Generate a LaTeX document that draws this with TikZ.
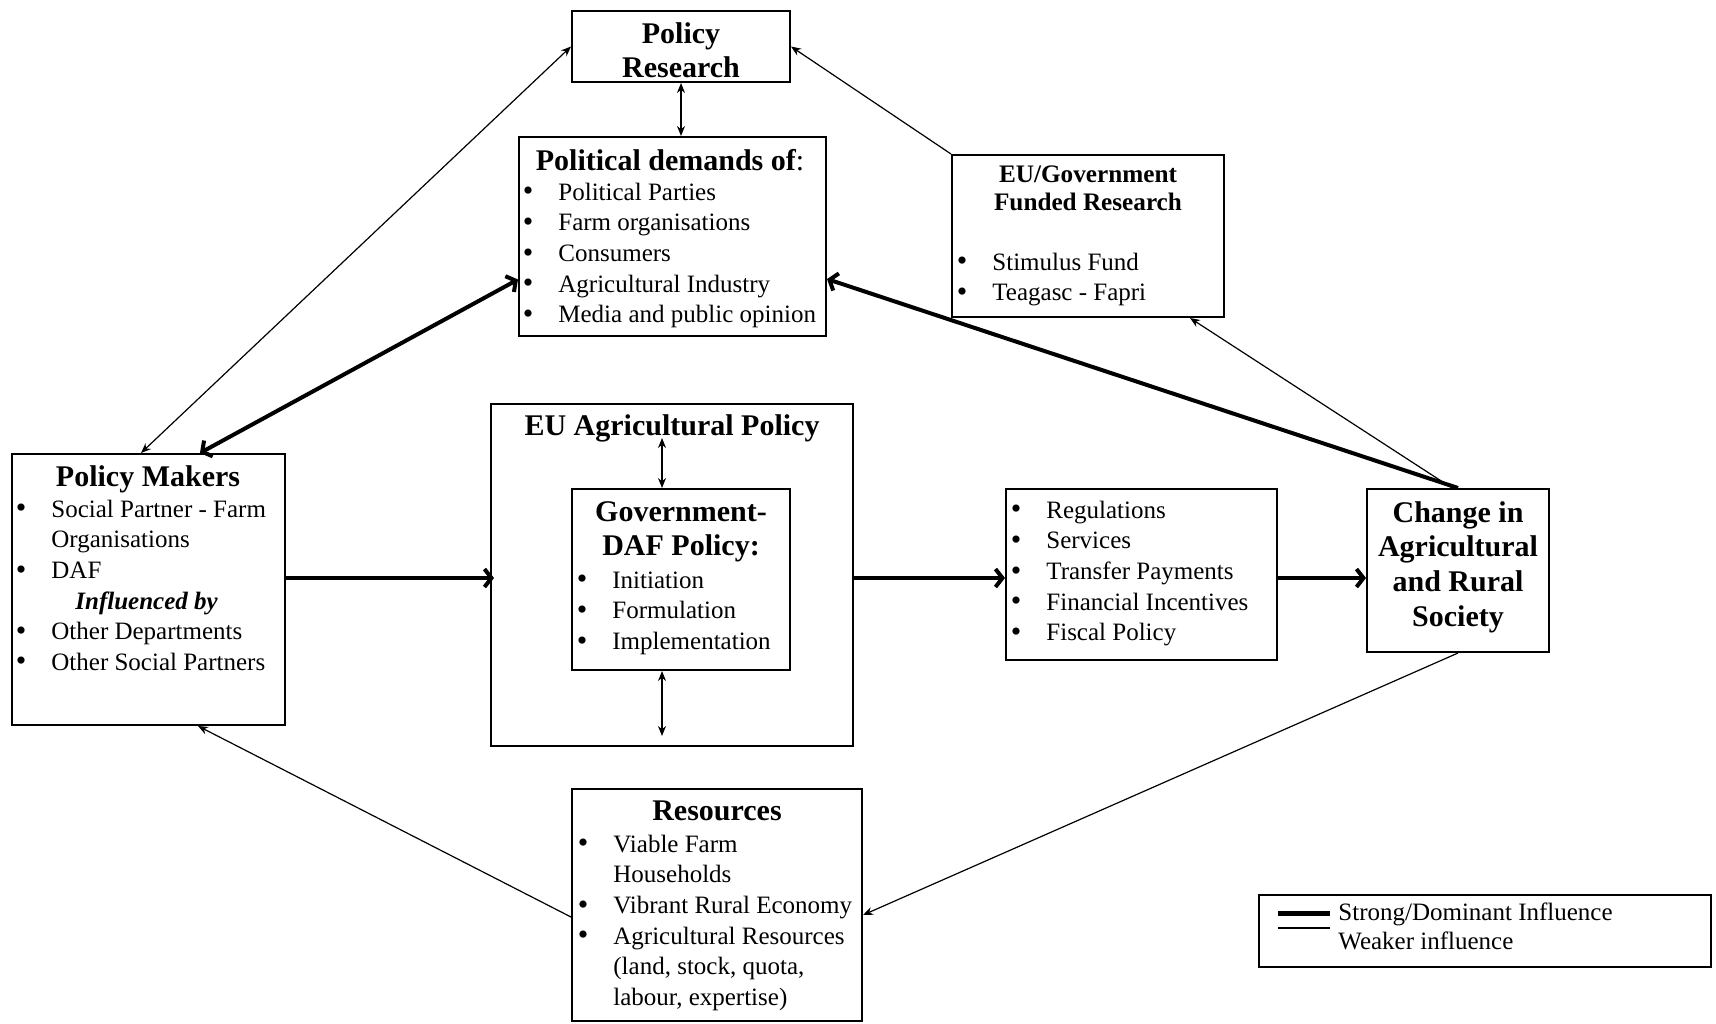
\documentclass[tikz,border=0pt]{standalone}
\usepackage{fontspec}
\setmainfont{Liberation Serif}
\usetikzlibrary{arrows.meta}

\newcommand{\itm}[1]{\strut\llap{\raisebox{-0.3pt}{\fontsize{15}{15}\selectfont\textbullet}\hspace{12.5pt}}#1}
\newcommand{\cnt}[1]{\strut#1}

\tikzset{
  box/.style={draw, line width=1pt, inner sep=0pt},
  head/.style={font=\fontsize{15}{17}\selectfont\bfseries, align=center, inner sep=0pt},
  lst/.style={font=\fontsize{12.5}{15.3}\selectfont, align=left, anchor=north west, inner sep=0pt},
  weak/.style={line width=0.6pt, >={Stealth[length=5pt,width=4pt]}},
  strong/.style={line width=2pt, >={Straight Barb[length=3.5pt,width=9pt]}, line join=round}
}

\begin{document}
\begin{tikzpicture}[x=0.5pt, y=-0.5pt]
        \useasboundingbox (0, 0) rectangle (1716, 1023);
        \node [box, minimum width=109pt, minimum height=35.5pt] (pr) at (681, 46.5) {};
        \node [box, minimum width=153.5pt, minimum height=99.5pt] (pd) at (672.5, 236.5) {};
        \node [box, minimum width=136pt, minimum height=81pt] (fund) at (1088, 236) {};
        \node [box, minimum width=136.5pt, minimum height=135.5pt] (pm) at (148.5, 589.5) {};
        \node [box, minimum width=181pt, minimum height=171pt] (eu) at (672, 575) {};
        \node [box, minimum width=109pt, minimum height=90.5pt] (gov) at (681, 579.5) {};
        \node [box, minimum width=135.5pt, minimum height=85.5pt] (reg) at (1141.5, 574.5) {};
        \node [box, minimum width=91pt, minimum height=81.5pt] (chg) at (1458, 570.5) {};
        \node [box, minimum width=145pt, minimum height=116pt] (res) at (717, 905) {};
        \node [box, minimum width=226pt, minimum height=36pt] (leg) at (1485, 931) {};
        \node [head] (prt) at (681, 50) {Policy\\Research};
        \node [head] (pdt) at (670, 160) {Political demands of{\mdseries:}};
        \node [head, font=\fontsize{12.6}{14}\selectfont\bfseries] (fundt) at (1088, 188) {EU/Government\\Funded Research};
        \node [head] (pmt) at (148, 479) {Policy Makers};
        \node [head] (eut) at (672, 428.5) {EU Agricultural Policy};
        \node [head] (govt) at (681, 532) {Government-\\DAF Policy:};
        \node [head, font=\fontsize{15}{17.3}\selectfont\bfseries] (chgt) at (1458, 567) {Change in\\Agricultural\\and Rural\\Society};
        \node [head] (rest) at (717, 811) {Resources};
        \node [lst] (pdl) at (558, 178.5) {\itm{Political Parties}\\\itm{Farm organisations}\\\itm{Consumers}\\\itm{Agricultural Industry}\\\itm{Media and public opinion}};
        \node [lst] (fundl) at (992, 248.5) {\itm{Stimulus Fund}\\\itm{Teagasc - Fapri}};
        \node [lst] (pml) at (51, 495.5) {\itm{Social Partner - Farm}\\\cnt{Organisations}\\\itm{DAF}\\\cnt{\hspace*{12pt}\textbf{\textit{Influenced by}}}\\\itm{Other Departments}\\\itm{Other Social Partners}};
        \node [lst] (govl) at (612, 566.5) {\itm{Initiation}\\\itm{Formulation}\\\itm{Implementation}};
        \node [lst] (regl) at (1046, 496.5) {\itm{Regulations}\\\itm{Services}\\\itm{Transfer Payments}\\\itm{Financial Incentives}\\\itm{Fiscal Policy}};
        \node [lst] (resl) at (613, 830.5) {\itm{Viable Farm}\\\cnt{Households}\\\itm{Vibrant Rural Economy}\\\itm{Agricultural Resources}\\\cnt{(land, stock, quota,}\\\cnt{labour, expertise)}};
        \node [lst, font=\fontsize{12.5}{14.5}\selectfont] (legl) at (1338, 900) {\cnt{Strong/Dominant Influence}\\\cnt{Weaker influence}};
        \coordinate (flow) at (0, 578);
        \coordinate (eutop) at (662, 438);
        \coordinate (eubot) at (662, 736);
        \coordinate (s1) at (1278, 913);
        \coordinate (s2) at (1330, 913);
        \coordinate (w1) at (1278, 928);
        \coordinate (w2) at (1330, 928);
        \draw [weak, <->] (pr.south) to (pr.south |- pd.north);
        \draw [weak, <->] ([xshift=-3.75pt]pm.north) to (pr.west);
        \draw [strong, <->] ([xshift=25.75pt]pm.north) to ([yshift=-21.5pt]pd.west);
        \draw [strong, ->] (chg.north) to ([yshift=-21.25pt]pd.east);
        \draw [weak, ->] ([xshift=-3pt]chg.north) to ([xshift=51pt]fund.south);
        \draw [weak, ->] (fund.north west) to (pr.east);
        \draw [strong, ->] (pm.east |- flow) to ([xshift=2pt]eu.west |- flow);
        \draw [strong, ->] (eu.east |- flow) to (reg.west |- flow);
        \draw [strong, ->] (reg.east |- flow) to (chg.west |- flow);
        \draw [weak, <->] ([xshift=-9.5pt]gov.north) to (eutop);
        \draw [weak, <->] ([xshift=-9.5pt]gov.south) to (eubot);
        \draw [weak, ->] (chg.south) to ([yshift=-5pt]res.east);
        \draw [weak, ->] ([yshift=-6pt]res.west) to ([xshift=24.75pt]pm.south);
        \draw [line width=2.5pt] (s1) to (s2);
        \draw [line width=1pt] (w1) to (w2);
\end{tikzpicture}
\end{document}
